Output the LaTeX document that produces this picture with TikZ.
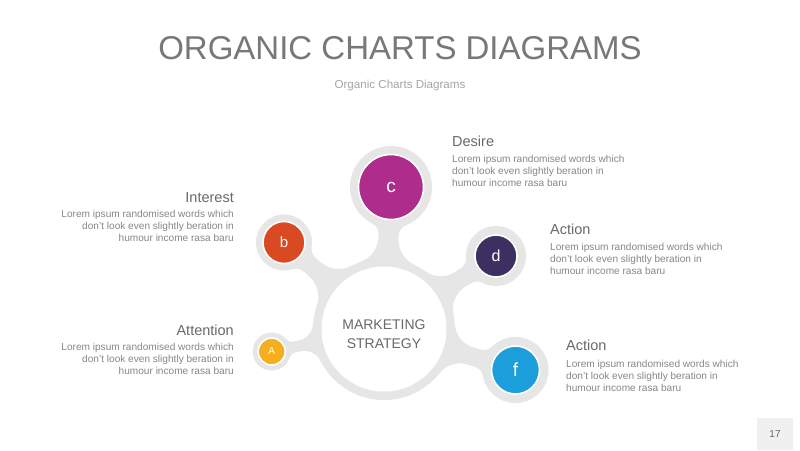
\documentclass[tikz,border=0pt]{standalone}
\usepackage{fontspec}
\setmainfont{Liberation Sans}
\usetikzlibrary{calc}
\definecolor{ring}{RGB}{230,230,230}
\definecolor{cmag}{RGB}{174,44,140}
\definecolor{corg}{RGB}{217,74,34}
\definecolor{cpur}{RGB}{62,47,99}
\definecolor{cyel}{RGB}{245,174,30}
\definecolor{cblu}{RGB}{28,158,219}
\definecolor{titlegrey}{RGB}{120,120,120}
\definecolor{headgrey}{RGB}{105,105,105}
\definecolor{bodygrey}{RGB}{135,135,135}
\definecolor{subgrey}{RGB}{165,165,165}
% organic stem: #1,#2 satellite centre (px), #3 satellite ring radius, #4 half neck, #5 fillet at hub, #6 fillet at satellite
\newcommand\orgstem[6]{%
  \pgfmathsetmacro\sdx{#1-384}%
  \pgfmathsetmacro\sdy{329-#2}%
  \pgfmathsetmacro\sang{atan2(\sdy,\sdx)}%
  \pgfmathsetmacro\sD{veclen(\sdx,\sdy)}%
  \pgfmathsetmacro\sxa{sqrt((71+#5)^2-(#4+#5)^2)}%
  \pgfmathsetmacro\saa{atan2(#4+#5,\sxa)}%
  \pgfmathsetmacro\sxb{sqrt((#3+#6)^2-(#4+#6)^2)}%
  \pgfmathsetmacro\sab{atan2(#4+#6,\sxb)}%
  \pgfmathsetmacro\snb{\sD-\sxb}%
  \pgfmathsetmacro\stx{\snb+#6*cos(\sab)}%
  \pgfmathsetmacro\sty{#4+#6-#6*sin(\sab)}%
  \begin{scope}[shift={(384,329)}, rotate=\sang, x=1pt, y=1pt]
    \fill[ring] (\saa:71) arc[start angle=180+\saa, end angle=270, radius=#5]
      -- (\snb,#4) arc[start angle=270, end angle=360-\sab, radius=#6]
      -- (\stx,-\sty) arc[start angle=\sab, end angle=90, radius=#6]
      -- (\sxa,-#4) arc[start angle=90, end angle=180-\saa, radius=#5] -- cycle;
  \end{scope}
}
\tikzset{
  dot/.style={circle, draw=white, line width=1.6pt, inner sep=0pt, text=white},
  head/.style={inner sep=0pt, text=headgrey, font=\fontsize{14.5}{16}\selectfont},
  bodyl/.style={inner sep=0pt, text=bodygrey, align=left, font=\fontsize{10.1}{12.2}\selectfont},
  bodyr/.style={inner sep=0pt, text=bodygrey, align=right, font=\fontsize{10.1}{12.2}\selectfont},
}
\begin{document}
\begin{tikzpicture}[x=1pt,y=-1pt]
\useasboundingbox (0,0) rectangle (800,450);
\fill[white] (0,0) rectangle (800,450);
% title
\node[inner sep=0pt, text=titlegrey, font=\fontsize{33}{36}\selectfont] (title) at (400,48) {ORGANIC CHARTS DIAGRAMS};
\node[inner sep=0pt, text=subgrey, font=\fontsize{11.6}{13}\selectfont] (subtitle) at (400,85) {Organic Charts Diagrams};
% centres
\coordinate (M) at (384,329);
\coordinate (pc) at (391,187);
\coordinate (pb) at (284,242.5);
\coordinate (pd) at (496,256);
\coordinate (pa) at (271.7,351.5);
\coordinate (pf) at (515.5,370);
% stems
\orgstem{391}{187}{41}{10}{28}{12}
\orgstem{284}{242.5}{28}{9}{28}{12}
\orgstem{496}{256}{30}{9}{26}{12}
\orgstem{271.7}{351.5}{19}{5.5}{18}{7}
\orgstem{515.5}{370}{33}{9}{26}{12}
% rings
\fill[ring] (M) circle (71pt);
\fill[ring] (pc) circle (41pt);
\fill[ring] (pb) circle (28pt);
\fill[ring] (pd) circle (30pt);
\fill[ring] (pa) circle (19pt);
\fill[ring] (pf) circle (33pt);
\node[circle, fill=white, minimum size=125pt, inner sep=0pt] (main) at (M) {};
\node[inner sep=0pt, align=center, text=headgrey, font=\fontsize{14}{18.5}\selectfont] (mtext) at (384,334) {MARKETING\\STRATEGY};
% coloured dots
\node[dot, fill=cmag, minimum size=65pt, font=\fontsize{19}{20}\selectfont] (c) at (pc) {c};
\node[dot, fill=corg, minimum size=42pt, font=\fontsize{15}{16}\selectfont] (b) at (pb) {b};
\node[dot, fill=cpur, minimum size=42pt, font=\fontsize{16}{17}\selectfont] (d) at (pd) {d};
\node[dot, fill=cyel, minimum size=27pt, font=\fontsize{10}{11}\selectfont] (a) at (pa) {A};
\node[dot, fill=cblu, minimum size=48pt, font=\fontsize{19}{20}\selectfont] (f) at (pf) {f};
% texts
\node[head, anchor=base west] (h1) at (452,146.5) {Desire};
\node[bodyl, anchor=north west] (t1) at (452,155) {Lorem ipsum randomised words which\\don't look even slightly beration in\\humour income rasa baru};
\node[head, anchor=base east] (h2) at (234,202) {Interest};
\node[bodyr, anchor=north east] (t2) at (234,209.5) {Lorem ipsum randomised words which\\don't look even slightly beration in\\humour income rasa baru};
\node[head, anchor=base west] (h3) at (550,234) {Action};
\node[bodyl, anchor=north west] (t3) at (550,243) {Lorem ipsum randomised words which\\don't look even slightly beration in\\humour income rasa baru};
\node[head, anchor=base east] (h4) at (234,335) {Attention};
\node[bodyr, anchor=north east] (t4) at (234,343) {Lorem ipsum randomised words which\\don't look even slightly beration in\\humour income rasa baru};
\node[head, anchor=base west] (h5) at (566,350) {Action};
\node[bodyl, anchor=north west] (t5) at (566,359.5) {Lorem ipsum randomised words which\\don't look even slightly beration in\\humour income rasa baru};
% page number
\fill[black!6] (757,418) rectangle (793,450);
\node[inner sep=0pt, text=headgrey, font=\fontsize{10}{12}\selectfont] (pg) at (775,434) {17};
\end{tikzpicture}
\end{document}
